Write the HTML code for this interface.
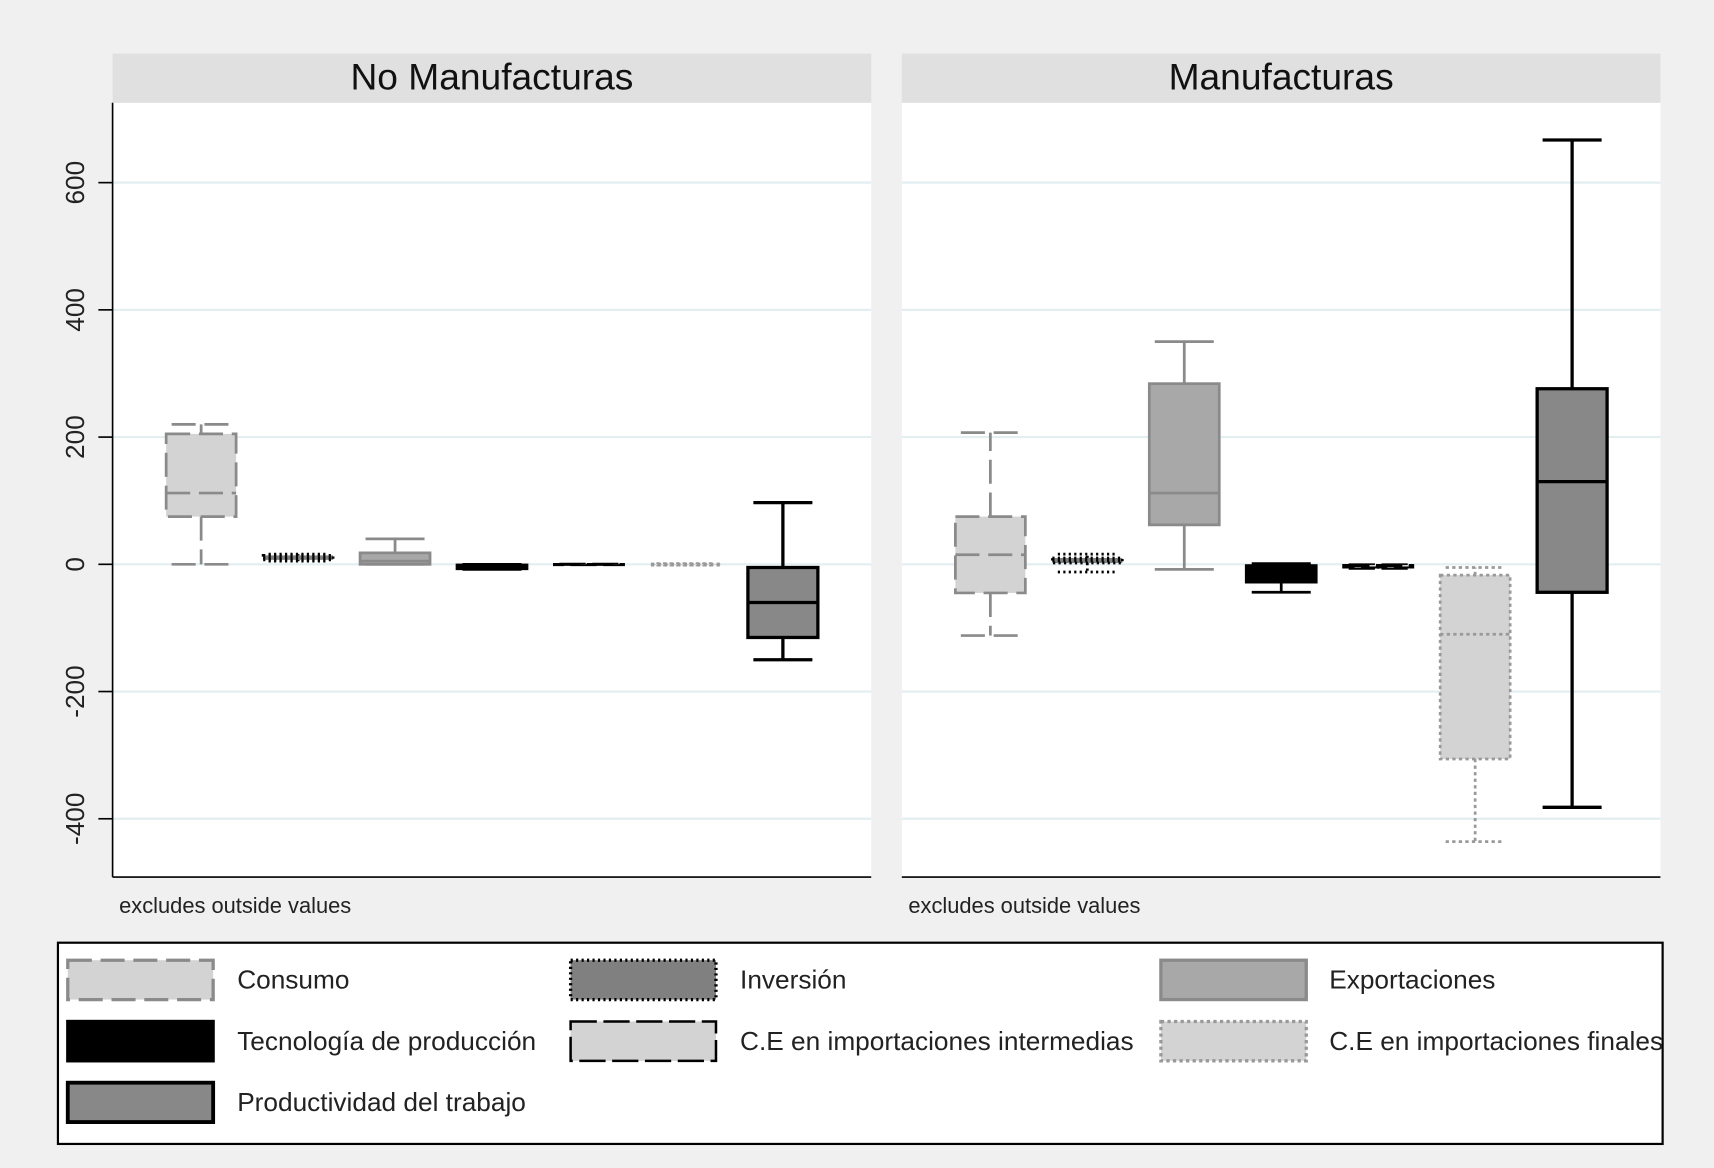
<!DOCTYPE html>
<html><head><meta charset="utf-8"><style>
html,body{margin:0;padding:0;background:#f0f0f0;}
svg{display:block;font-family:"Liberation Sans",Arial,sans-serif;}
</style></head><body>
<svg id="chart" width="1714" height="1168" viewBox="0 0 1568 1068" preserveAspectRatio="none" xmlns="http://www.w3.org/2000/svg">
<rect x="0" y="0" width="1568" height="1068" fill="#f0f0f0"/>
<g id="panels"></g>
<g id="legend"></g>
</svg>
<script>
const panelTitles = ["No Manufacturas", "Manufacturas"];
const seriesNames = ["Consumo","Inversión","Exportaciones","Tecnología de producción","C.E en importaciones intermedias","C.E en importaciones finales","Productividad del trabajo"];
const yTicks = [-400,-200,0,200,400,600];
// [lower whisker, q1, median, q3, upper whisker]
const noManuf = [[0,75,112,205,220],[5,7,10,14,16],[0,0,5,18,40],[-8,-7,-3,-1,0],[-1,-0.5,0,0.5,1],[-1,0,0,0.5,1],[-150,-115,-60,-5,97]];
const manuf = [[-112,-45,15,75,207],[-12,2,6,10,16],[-8,62,112,284,350],[-44,-28,-15,-2,1],[-7,-5,-3,-1,0],[-436,-306,-110,-17,-5],[-382,-44,130,276,667]];
const panelData = [noManuf, manuf];

const styles = [
 {fill:"#d3d3d3",stroke:"#8a8a8a",dash:"22,8",w:2.5},
 {fill:"#808080",stroke:"#000",dash:"2,3",w:2.5},
 {fill:"#a8a8a8",stroke:"#8a8a8a",dash:"",w:2.5},
 {fill:"#000",stroke:"#000",dash:"",w:2.5},
 {fill:"#d3d3d3",stroke:"#000",dash:"24,6",w:1.8},
 {fill:"#d3d3d3",stroke:"#999",dash:"3,3",w:2.5},
 {fill:"#888",stroke:"#000",dash:"",w:3}
];
const NS="http://www.w3.org/2000/svg";
function mk(tag,attrs,parent){const e=document.createElementNS(NS,tag);for(const k in attrs)e.setAttribute(k,attrs[k]);parent.appendChild(e);return e;}
function yScale(v){return 516 - v*(349/600);}
const panels=document.getElementById('panels');
const panelX=[103,825], panelW=694, bw=64;
panelData.forEach((data,p)=>{
  const x0=panelX[p];
  const g=mk('g',{},panels);
  
  
  mk('rect',{x:x0,y:94,width:panelW,height:708,fill:'#fff'},g);
  const hdr=mk('rect',{x:x0,y:49,width:panelW,height:45,fill:'#e0e0e0'},g);
  
  
  const t=mk('text',{x:x0+panelW/2,y:82,'text-anchor':'middle','font-size':34,fill:'#111'},g);
  t.textContent=panelTitles[p];
  
  
  yTicks.forEach(v=>{mk('line',{x1:x0,x2:x0+panelW,y1:yScale(v),y2:yScale(v),stroke:'#e2eef0','stroke-width':2},g);});
  mk('line',{x1:x0,x2:x0+panelW,y1:802,y2:802,stroke:'#000','stroke-width':1.5},g);
  if(p===0){
    mk('line',{x1:x0,x2:x0,y1:94,y2:802,stroke:'#000','stroke-width':1.5},g);
    yTicks.forEach(v=>{
      const y=yScale(v);
      mk('line',{x1:x0-13,x2:x0,y1:y,y2:y,stroke:'#000','stroke-width':1.5},g);
      const tl=mk('text',{x:0,y:0,'text-anchor':'middle','font-size':24,fill:'#222',transform:`translate(77,${y}) rotate(-90)`},g);
      tl.textContent=v;
      
      
    });
  }
  const note=mk('text',{x:x0+6,y:835,'font-size':20,fill:'#222'},g);
  note.textContent='excludes outside values';
  
  
  data.forEach((d,i)=>{
    const s=styles[i];
    const cx=x0+81+i*88.7;
    const bg=mk('g',{},g);
    
    
    const [lo,q1,med,q3,hi]=d.map(yScale);
    const common={stroke:s.stroke,'stroke-width':s.w,'stroke-dasharray':s.dash,fill:'none'};
    mk('line',Object.assign({x1:cx,x2:cx,y1:q3,y2:hi},common),bg);
    mk('line',Object.assign({x1:cx,x2:cx,y1:q1,y2:lo},common),bg);
    mk('line',Object.assign({x1:cx-27,x2:cx+27,y1:hi,y2:hi},common),bg);
    mk('line',Object.assign({x1:cx-27,x2:cx+27,y1:lo,y2:lo},common),bg);
    mk('rect',Object.assign({},common,{x:cx-bw/2,y:Math.min(q1,q3),width:bw,height:Math.max(Math.abs(q1-q3),1),fill:s.fill}),bg);
    mk('line',Object.assign({x1:cx-bw/2,x2:cx+bw/2,y1:med,y2:med},common),bg);
  });
});
// legend
const lg=document.getElementById('legend');
mk('rect',{x:53,y:862,width:1468,height:184,fill:'#fff',stroke:'#000','stroke-width':2},lg);
const lx=[62,522,1062], ly=[878,934,990], tx=[217,677,1216];
seriesNames.forEach((name,i)=>{
  const r=Math.floor(i/3), c=i%3, s=styles[i];
  const e=mk('g',{},lg);
  
  
  mk('rect',{x:lx[c],y:ly[r],width:133,height:36,fill:s.fill,stroke:s.stroke,'stroke-width':s.w+0.5,'stroke-dasharray':s.dash},e);
  const t=mk('text',{x:tx[c],y:ly[r]+26,'font-size':24,fill:'#222'},e);
  t.textContent=name;
});
</script>
</body></html>
